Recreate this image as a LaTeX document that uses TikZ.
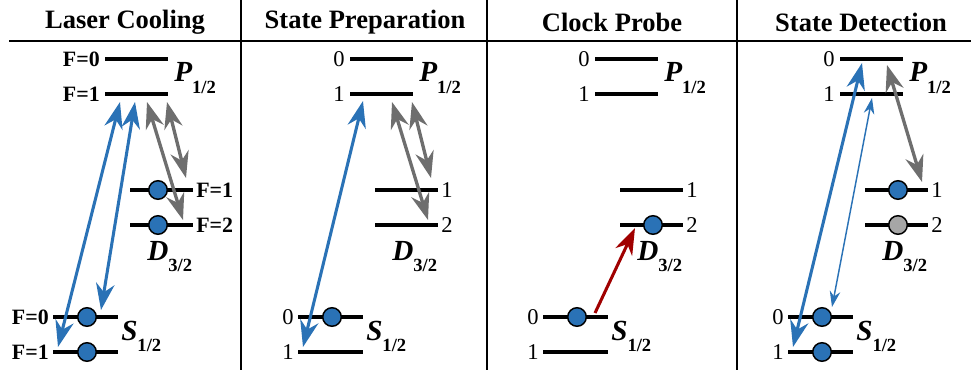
\documentclass[tikz,border=0pt]{standalone}
\usepackage{fontspec}
\setmainfont{Liberation Serif}
\usetikzlibrary{arrows.meta}
\definecolor{LvBlue}{HTML}{2A72B6}
\definecolor{LvGray}{HTML}{6E6E6E}
\definecolor{LvDot}{HTML}{A6A6A6}
\definecolor{LvRed}{HTML}{A00000}
\newcommand{\lvterm}[2]{{\fontsize{22}{22}\selectfont\bfseries\itshape #1}\raisebox{-9pt}{\fontsize{14}{14}\selectfont\bfseries #2}}
\tikzset{
  rule/.style={line width=1.3pt},
  level/.style={line width=3pt},
  pump/.style={{Stealth[length=20pt,width=14pt]}-{Stealth[length=20pt,width=14pt]},LvBlue,line width=2.3pt},
  pumpthin/.style={{Stealth[length=12pt,width=8pt]}-{Stealth[length=12pt,width=8pt]},LvBlue,line width=1.1pt},
  decay/.style={pump,LvGray,line width=2.5pt},
  probe/.style={-{Stealth[length=20pt,width=14pt]},LvRed,line width=2.3pt},
  ion/.style={circle,draw=black,line width=1.1pt,fill=LvBlue,minimum size=14pt,inner sep=0pt},
  iondark/.style={ion,fill=LvDot},
  head/.style={font=\fontsize{20}{23}\selectfont\bfseries},
  flab/.style={font=\fontsize{16.5}{18}\selectfont\bfseries,inner sep=0pt},
  nlab/.style={font=\fontsize{17}{19}\selectfont,inner sep=0pt},
  term/.style={inner sep=0pt},
}

\begin{document}
\begin{tikzpicture}[x=0.0265cm,y=-0.0265cm]
  \useasboundingbox (0,0) rectangle (971,370);
  % frame
  \draw[rule] (9,41) -- (971,41);
  \foreach \xr in {241,487,737} \draw[rule] (\xr,0) -- (\xr,370);

  \node[head] (tcool) at (125,22) {Laser Cooling};
  \node[head] (tprep) at (365,22) {State Preparation};
  \node[head] (tclock) at (612,22) {Clock Probe};
  \node[head] (tdet) at (861,22) {State Detection};

  % levels, labels and terms of each panel
  \foreach \dx/\i/\pre/\ls in {0/a/F=/flab,245/b//nlab,490/c//nlab,735/d//nlab}{
    \draw[level] (\dx+105,59) -- (\dx+168,59);
    \draw[level] (\dx+105,94) -- (\dx+168,94);
    \draw[level] (\dx+130,190) -- (\dx+193,190);
    \draw[level] (\dx+130,225) -- (\dx+193,225);
    \draw[level] (\dx+53,317) -- (\dx+118,317);
    \draw[level] (\dx+53,352) -- (\dx+118,352);
    \node[\ls,anchor=east] (p0\i) at (\dx+100,59) {\pre0};
    \node[\ls,anchor=east] (p1\i) at (\dx+100,94) {\pre1};
    \node[\ls,anchor=west] (d1\i) at (\dx+196,190) {\pre1};
    \node[\ls,anchor=west] (d2\i) at (\dx+196,225) {\pre2};
    \node[\ls,anchor=east] (s0\i) at (\dx+49,317) {\pre0};
    \node[\ls,anchor=east] (s1\i) at (\dx+49,352) {\pre1};
    \node[term,anchor=base west] (tp\i) at (\dx+174,82) {\lvterm{P}{1/2}};
    \node[term,anchor=base west] (td\i) at (\dx+147,260) {\lvterm{D}{3/2}};
    \node[term,anchor=base west] (ts\i) at (\dx+121,340) {\lvterm{S}{1/2}};
  }

  % ions
  \node[ion] (iad1) at (158,190) {};
  \node[ion] (iad2) at (158,225) {};
  \node[ion] (ias0) at (87,317) {};
  \node[ion] (ias1) at (87,352) {};
  \node[ion] (ibs0) at (332,317) {};
  \node[ion] (ics0) at (577,317) {};
  \node[ion] (icd2) at (653,225) {};
  \node[ion] (idd1) at (898,190) {};
  \node[iondark] (idd2) at (898,225) {};
  \node[ion] (ids0) at (822,317) {};
  \node[ion] (ids1) at (822,352) {};

  % arrow ends
  \coordinate (a1s) at (58,347);   \coordinate (a1p) at (120,102);
  \coordinate (a2s) at (101,310);  \coordinate (a2p) at (135,102);
  \coordinate (a3p) at (147,102);  \coordinate (a3d) at (183,220);
  \coordinate (a4p) at (167,102);  \coordinate (a4d) at (186,178);
  \coordinate (b1s) at (303,347);  \coordinate (b1p) at (363,101);
  \coordinate (b3p) at (392,102);  \coordinate (b3d) at (428,220);
  \coordinate (b4p) at (412,102);  \coordinate (b4d) at (431,178);
  \coordinate (c1s) at (595,313);  \coordinate (c1d) at (635,228);
  \coordinate (d1s) at (793,347);  \coordinate (d1p) at (862,63);
  \coordinate (d2s) at (832,307);  \coordinate (d2p) at (872,98);
  \coordinate (d3p) at (887,65);   \coordinate (d3d) at (922,182);

  \draw[pump] (a1s) -- (a1p);
  \draw[pump] (a2s) -- (a2p);
  \draw[decay] (a3p) -- (a3d);
  \draw[decay] (a4p) -- (a4d);
  \draw[pump] (b1s) -- (b1p);
  \draw[decay] (b3p) -- (b3d);
  \draw[decay] (b4p) -- (b4d);
  \draw[probe] (c1s) -- (c1d);
  \draw[pump] (d1s) -- (d1p);
  \draw[pumpthin] (d2s) -- (d2p);
  \draw[decay] (d3p) -- (d3d);
\end{tikzpicture}
\end{document}
